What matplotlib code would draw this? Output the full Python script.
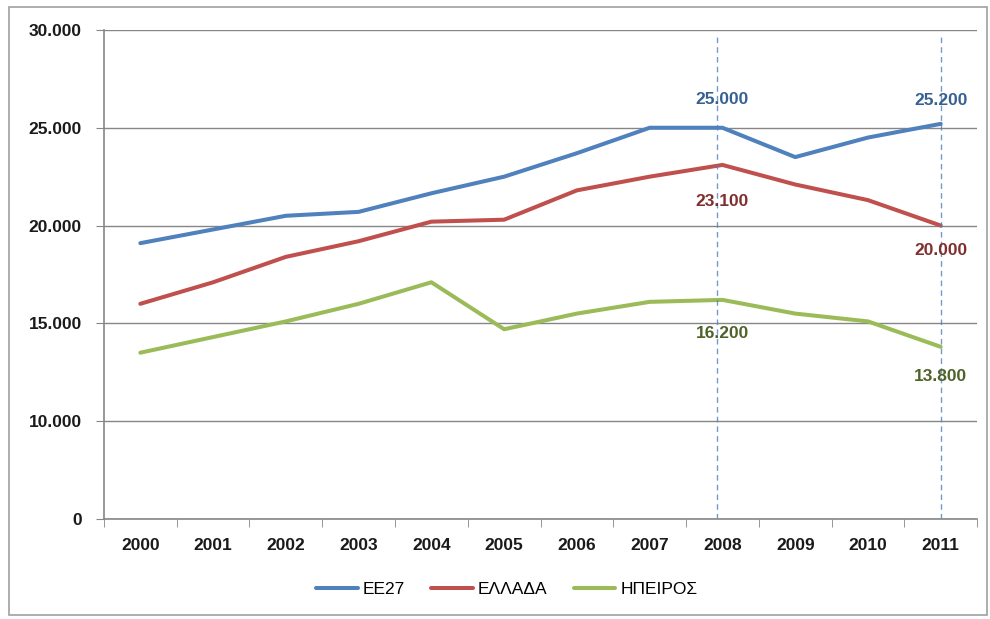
import matplotlib.pyplot as plt
import matplotlib.patches as patches

years = ['2000', '2001', '2002', '2003', '2004', '2005', '2006', '2007', '2008', '2009', '2010', '2011']
ee27 = [19100, 19800, 20500, 20700, 21650, 22500, 23700, 25000, 25000, 23500, 24500, 25200]
ellada = [16000, 17100, 18400, 19200, 20200, 20300, 21800, 22500, 23100, 22100, 21300, 20000]
ipeiros = [13500, 14300, 15100, 16000, 17100, 14700, 15500, 16100, 16200, 15500, 15100, 13800]

yticks = [5000, 10000, 15000, 20000, 25000, 30000]
ytick_labels = ['0', '10.000', '15.000', '20.000', '25.000', '30.000']

plt.rcParams['font.family'] = ['Liberation Sans', 'DejaVu Sans']

fig = plt.figure(figsize=(9.9, 6.19), dpi=100)
ax = fig.add_axes([0.105, 0.1616, 0.882, 0.79])

x = list(range(len(years)))
ax.plot(x, ee27, color='#4F81BD', lw=2.9, label='ΕΕ27', solid_capstyle='round')
ax.plot(x, ellada, color='#C0504D', lw=2.9, label='ΕΛΛΑΔΑ', solid_capstyle='round')
ax.plot(x, ipeiros, color='#9BBB59', lw=2.9, label='ΗΠΕΙΡΟΣ', solid_capstyle='round')

ax.set_xlim(-0.5, len(years) - 0.5)
ax.set_ylim(5000, 30000)
ax.set_yticks(yticks)
ax.set_yticklabels(ytick_labels)
ax.set_xticks(x)
ax.set_xticklabels(years)
ax.set_xticks([i + 0.5 for i in range(-1, len(years))], minor=True)
ax.tick_params(axis='x', which='major', length=0, pad=14)
ax.tick_params(axis='x', which='minor', length=6, color='#868686', direction='out')
ax.tick_params(axis='y', length=6, color='#868686', pad=10)
for lab in ax.get_xticklabels() + ax.get_yticklabels():
    lab.set_fontweight('bold')
    lab.set_fontsize(12.5)
    lab.set_color('#1a1a1a')

ax.grid(axis='y', color='#868686', lw=1)
ax.set_axisbelow(True)
for s in ['top', 'right']:
    ax.spines[s].set_visible(False)
for s in ['left', 'bottom']:
    ax.spines[s].set_color('#868686')
    ax.spines[s].set_linewidth(1.2)

# dashed markers at 2008 and 2011
i08 = years.index('2008')
i11 = years.index('2011')
for xv in [i08 - 0.08, i11]:
    ax.axvline(xv, ymin=0, ymax=0.985, color='#4F81BD', ls=(0, (4, 3)), lw=1, alpha=0.8)

lab_kw = dict(ha='center', va='center', fontsize=12.5, fontweight='bold',
              textcoords='offset points')


def fmt(v):
    return f'{v:,}'.replace(',', '.')


ax.annotate(fmt(ee27[i08]), (i08, ee27[i08]), xytext=(0, 20), color='#376092', **lab_kw)
ax.annotate(fmt(ee27[i11]), (i11, ee27[i11]), xytext=(0, 17), color='#376092', **lab_kw)
ax.annotate(fmt(ellada[i08]), (i08, ellada[i08]), xytext=(0, -26), color='#7F2F2D', **lab_kw)
ax.annotate(fmt(ellada[i11]), (i11, ellada[i11]), xytext=(0, -18), color='#7F2F2D', **lab_kw)
ax.annotate(fmt(ipeiros[i08]), (i08, ipeiros[i08]), xytext=(0, -24), color='#4F6228', **lab_kw)
ax.annotate(fmt(ipeiros[i11]), (i11, ipeiros[i11]), xytext=(0, -21), color='#4F6228', **lab_kw)

fig.legend(loc='center', bbox_to_anchor=(0.512, 0.047), ncol=3, frameon=False,
           fontsize=12.5, handlelength=2.4, handletextpad=0.3, columnspacing=1.5)

fig.patches.append(patches.Rectangle((0.009, 0.006), 0.988, 0.983, transform=fig.transFigure,
                                     fill=False, edgecolor='#a0a0a0', lw=1.2))

fig.savefig('out.png', dpi=100)
